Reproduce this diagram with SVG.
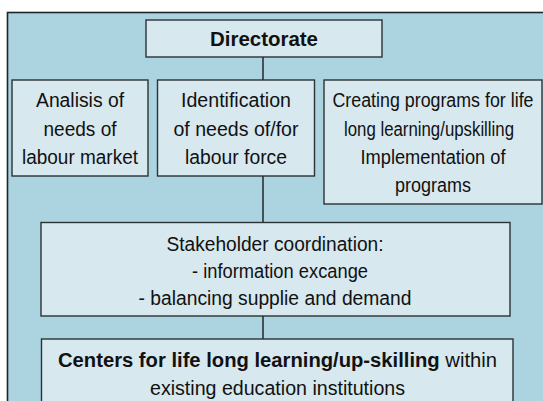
<svg xmlns="http://www.w3.org/2000/svg" width="543" height="401" viewBox="0 0 543 401">
  <style>
    .panel { fill: #abd3e0; stroke: #1c2626; stroke-width: 1.6; }
    .box { fill: #d7e8ef; stroke: #2b3333; stroke-width: 1.4; }
    .link { stroke: #2b3333; stroke-width: 1.6; fill: none; }
    text { font-family: "Liberation Sans", Arial, sans-serif; font-size: 20px; fill: #111; text-anchor: middle; }
    .b { font-weight: bold; }
  </style>
  <rect width="543" height="401" fill="#ffffff"/>
  <!-- background panel, runs past the right and bottom edges -->
  <rect class="panel" x="7.5" y="12.5" width="560" height="420"/>

  <g id="connectors">
    <line class="link" x1="263" y1="57" x2="263" y2="80"/>
    <line class="link" x1="263" y1="176" x2="263" y2="222"/>
    <line class="link" x1="263" y1="316" x2="263" y2="339"/>
  </g>

  <g id="directorate">
    <rect class="box" x="146" y="20" width="236" height="37"/>
    <text class="b" x="264" y="46" textLength="108" lengthAdjust="spacingAndGlyphs">Directorate</text>
  </g>

  <g id="analysis">
    <rect class="box" x="12" y="80" width="136" height="96"/>
    <text x="80" y="107" textLength="88" lengthAdjust="spacingAndGlyphs">Analisis of</text>
    <text x="80" y="136" textLength="73" lengthAdjust="spacingAndGlyphs">needs of</text>
    <text x="80" y="164" textLength="116" lengthAdjust="spacingAndGlyphs">labour market</text>
  </g>

  <g id="identification">
    <rect class="box" x="157.5" y="80" width="157" height="96"/>
    <text x="236" y="107" textLength="110" lengthAdjust="spacingAndGlyphs">Identification</text>
    <text x="236" y="136" textLength="125" lengthAdjust="spacingAndGlyphs">of needs of/for</text>
    <text x="236" y="164" textLength="102" lengthAdjust="spacingAndGlyphs">labour force</text>
  </g>

  <g id="programs">
    <rect class="box" x="324" y="80" width="218" height="124"/>
    <text x="433" y="107" textLength="201" lengthAdjust="spacingAndGlyphs">Creating programs for life</text>
    <text x="429" y="136" textLength="170" lengthAdjust="spacingAndGlyphs">long learning/upskilling</text>
    <text x="433" y="164" textLength="145" lengthAdjust="spacingAndGlyphs">Implementation of</text>
    <text x="433" y="192" textLength="76" lengthAdjust="spacingAndGlyphs">programs</text>
  </g>

  <g id="stakeholders">
    <rect class="box" x="41" y="222.5" width="469" height="93.5"/>
    <text x="275" y="251" textLength="217" lengthAdjust="spacingAndGlyphs">Stakeholder coordination:</text>
    <text x="280" y="278" textLength="176" lengthAdjust="spacingAndGlyphs">- information excange</text>
    <text x="275" y="305" textLength="273" lengthAdjust="spacingAndGlyphs">- balancing supplie and demand</text>
  </g>

  <g id="centers">
    <rect class="box" x="41.5" y="339" width="471.5" height="80"/>
    <text x="277.5" y="367" textLength="439" lengthAdjust="spacingAndGlyphs"><tspan class="b">Centers for life long learning/up-skilling</tspan> within</text>
    <text x="277.5" y="395" textLength="255" lengthAdjust="spacingAndGlyphs">existing education institutions</text>
  </g>
</svg>
